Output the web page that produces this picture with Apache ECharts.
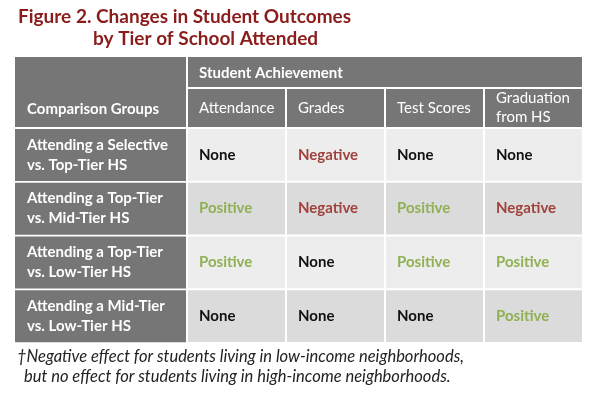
<!DOCTYPE html>
<html>
<head>
<meta charset="utf-8">
<title>Figure 2</title>
<script src="https://cdn.jsdelivr.net/npm/echarts@6/dist/echarts.min.js"></script>
<style>
  html, body { margin: 0; padding: 0; background: #fff; }
  #main { width: 600px; height: 400px; }
</style>
</head>
<body>
<div id="main"></div>
<script>
// 表格数据
const groups = [
  "Attending a Selective\nvs. Top-Tier HS",
  "Attending a Top-Tier\nvs. Mid-Tier HS",
  "Attending a Top-Tier\nvs. Low-Tier HS",
  "Attending a Mid-Tier\nvs. Low-Tier HS",
];
const outcomes = ["Attendance", "Grades", "Test Scores", "Graduation\nfrom HS"];
const effects = [
  ["None", "Negative", "None", "None"],
  ["Positive", "Negative", "Positive", "Negative"],
  ["Positive", "None", "Positive", "Positive"],
  ["None", "None", "None", "Positive"],
];

const FONT = "Lato, 'Open Sans', sans-serif";
const HEAD_BG = "#767676";
const rowFill = ["#ededed", "#dbdbdb"];
const effectColor = {
  None: "#111111",
  Negative: "#a0413b",
  Positive: "#8fb153",
};

// [列, 行, 结果]
const cells = [];
effects.forEach((row, r) => {
  row.forEach((v, c) => cells.push([c, r, v]));
});

const chart = echarts.init(document.getElementById("main"));

const option = {
  animation: false,
  grid: { left: 187, right: 17, top: 128, bottom: 57 },
  xAxis: {
    type: "category",
    position: "top",
    data: outcomes,
    axisLine: { show: false },
    axisTick: { show: false },
    splitLine: { show: false },
    axisLabel: {
      interval: 0,
      margin: 1,
      backgroundColor: HEAD_BG,
      padding: [0, 0, 0, 11],
      formatter: (v) => {
        const lines = v.split("\n");
        const key = lines.length > 1 ? "two" : "one";
        return lines.map((l) => "{" + key + "|" + l + "}").join("\n");
      },
      rich: {
        one: { width: 86, align: "left", lineHeight: 38, color: "#fff", fontSize: 15, fontFamily: FONT },
        two: { width: 86, align: "left", lineHeight: 19, color: "#fff", fontSize: 15, fontFamily: FONT },
      },
    },
  },
  yAxis: {
    type: "category",
    inverse: true,
    data: groups,
    axisLine: { show: false },
    axisTick: { show: false },
    splitLine: { show: false },
    axisLabel: {
      interval: 0,
      align: "left",
      margin: 172,
      width: 159,
      padding: [6, 0, 6, 12],
      lineHeight: 20,
      backgroundColor: HEAD_BG,
      color: "#fff",
      fontWeight: "bold",
      fontSize: 15,
      fontFamily: FONT,
    },
  },
  graphic: [
    // 标题
    {
      type: "text",
      left: 18,
      top: 7,
      style: { text: "Figure 2. Changes in Student Outcomes", fill: "#8b1c1c", font: "bold 19px " + FONT },
    },
    {
      type: "text",
      left: 93,
      top: 29,
      style: { text: "by Tier of School Attended", fill: "#8b1c1c", font: "bold 19px " + FONT },
    },
    // 表头
    { type: "rect", shape: { x: 15, y: 57, width: 171, height: 70 }, style: { fill: HEAD_BG } },
    { type: "rect", shape: { x: 188, y: 57, width: 394, height: 30 }, style: { fill: HEAD_BG } },
    {
      type: "text",
      x: 27,
      y: 109,
      style: { text: "Comparison Groups", fill: "#fff", font: "bold 15px " + FONT, verticalAlign: "middle" },
    },
    {
      type: "text",
      x: 199,
      y: 73,
      style: { text: "Student Achievement", fill: "#fff", font: "bold 15px " + FONT, verticalAlign: "middle" },
    },
    // 脚注
    {
      type: "text",
      x: 17,
      y: 357,
      style: {
        text: "\u2020Negative effect for students living in low-income neighborhoods,",
        fill: "#222",
        font: "italic 16.5px " + FONT,
        verticalAlign: "middle",
      },
    },
    {
      type: "text",
      x: 24,
      y: 377,
      style: {
        text: "but no effect for students living in high-income neighborhoods.",
        fill: "#222",
        font: "italic 16.5px " + FONT,
        verticalAlign: "middle",
      },
    },
  ],
  series: [
    {
      type: "custom",
      data: cells,
      encode: { x: 0, y: 1 },
      renderItem(params, api) {
        const c = api.coord([api.value(0), api.value(1)]);
        const s = api.size([1, 1]);
        const item = cells[params.dataIndex];
        const left = c[0] - s[0] / 2;
        const top = c[1] - s[1] / 2;
        return {
          type: "group",
          children: [
            {
              type: "rect",
              shape: { x: left + 1, y: top + 1, width: s[0] - 2, height: s[1] - 2 },
              style: { fill: rowFill[item[1] % 2] },
            },
            {
              type: "text",
              style: {
                x: left + 12,
                y: c[1],
                text: item[2],
                fill: effectColor[item[2]],
                font: "bold 15px " + FONT,
                verticalAlign: "middle",
              },
            },
          ],
        };
      },
    },
  ],
};

chart.setOption(option);
</script>
</body>
</html>
